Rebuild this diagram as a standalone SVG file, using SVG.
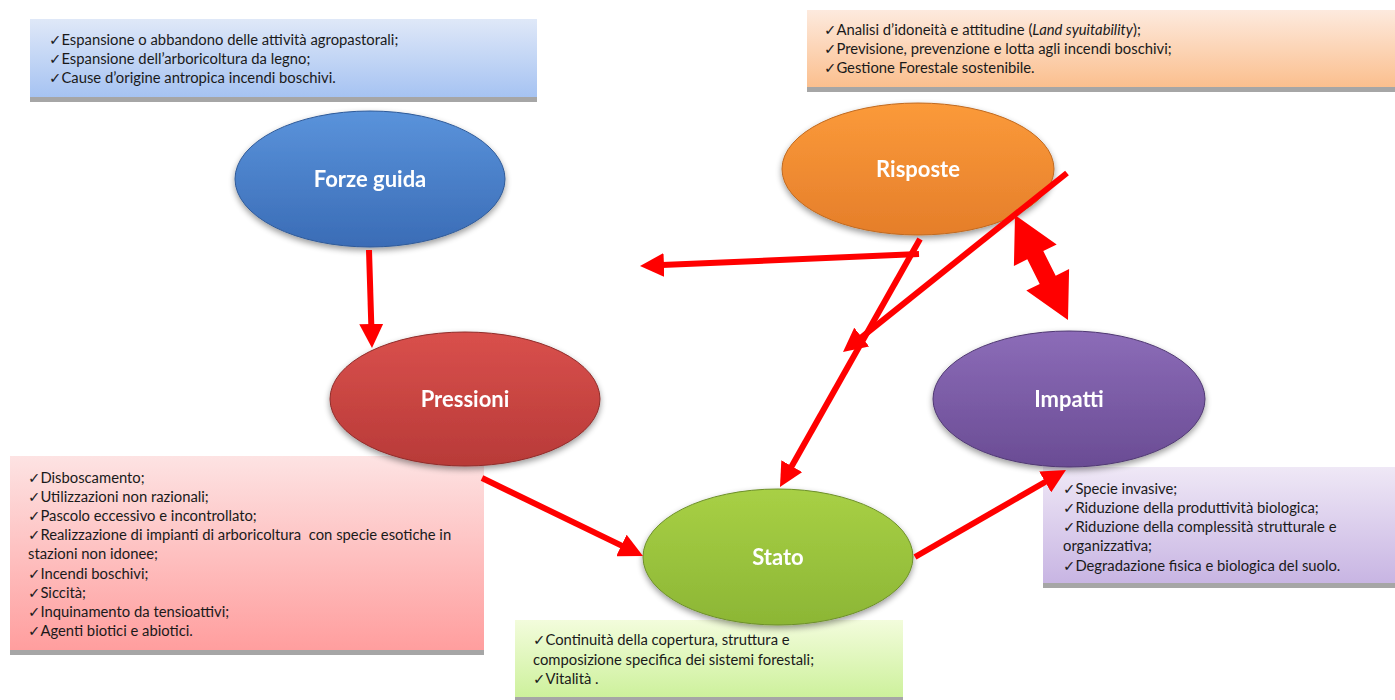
<svg xmlns="http://www.w3.org/2000/svg" width="1395" height="700" viewBox="0 0 1395 700">
<defs>
<style>
.t{font-family:Lato,"Liberation Sans","DejaVu Sans",sans-serif;font-size:14.8px;fill:#1a1a1a}
.lbl{font-family:Lato,"Liberation Sans",sans-serif;font-size:22px;font-weight:bold;fill:#ffffff}
.conn{stroke:#ff0000;stroke-width:6;fill:none}
.shadowbar{fill:#a6a6a6}
</style>
<linearGradient id="gBlueBox" x1="0" y1="0" x2="0" y2="1"><stop offset="0" stop-color="#dfe8f8"/><stop offset="1" stop-color="#a6c3f2"/></linearGradient>
<linearGradient id="gOrBox" x1="0" y1="0" x2="0" y2="1"><stop offset="0" stop-color="#fdeade"/><stop offset="1" stop-color="#fbbf8e"/></linearGradient>
<linearGradient id="gRedBox" x1="0" y1="0" x2="0" y2="1"><stop offset="0" stop-color="#fde3e3"/><stop offset="1" stop-color="#ff9e9e"/></linearGradient>
<linearGradient id="gPurBox" x1="0" y1="0" x2="0" y2="1"><stop offset="0" stop-color="#efe8f6"/><stop offset="1" stop-color="#c8b5e3"/></linearGradient>
<linearGradient id="gGrBox" x1="0" y1="0" x2="0" y2="1"><stop offset="0" stop-color="#f3fcdc"/><stop offset="1" stop-color="#cdf19c"/></linearGradient>
<linearGradient id="gBlue" x1="0" y1="0" x2="0" y2="1"><stop offset="0" stop-color="#5a93db"/><stop offset="1" stop-color="#3a6cb6"/></linearGradient>
<linearGradient id="gOr" x1="0" y1="0" x2="0" y2="1"><stop offset="0" stop-color="#fb9a3a"/><stop offset="1" stop-color="#e57e2a"/></linearGradient>
<linearGradient id="gRed" x1="0" y1="0" x2="0" y2="1"><stop offset="0" stop-color="#d9504c"/><stop offset="1" stop-color="#b83a38"/></linearGradient>
<linearGradient id="gPur" x1="0" y1="0" x2="0" y2="1"><stop offset="0" stop-color="#8c6cb8"/><stop offset="1" stop-color="#6a4c94"/></linearGradient>
<linearGradient id="gGr" x1="0" y1="0" x2="0" y2="1"><stop offset="0" stop-color="#a8d045"/><stop offset="1" stop-color="#8cb635"/></linearGradient>
<filter id="sh" x="-20%" y="-20%" width="140%" height="150%"><feGaussianBlur in="SourceAlpha" stdDeviation="3"/><feOffset dy="3"/><feComponentTransfer><feFuncA type="linear" slope="0.4"/></feComponentTransfer><feMerge><feMergeNode/><feMergeNode in="SourceGraphic"/></feMerge></filter>
<marker id="ah" markerUnits="userSpaceOnUse" viewBox="0 0 24 24" markerWidth="24" markerHeight="24" refX="14" refY="12" orient="auto"><path d="M0,0 L24,12 L0,24 z" fill="#ff0000"/></marker>
</defs>

<g id="box-forze">
<rect class="shadowbar" x="30" y="22" width="507" height="80"/>
<rect x="30" y="19" width="507" height="78" fill="url(#gBlueBox)"/>
<text class="t" x="49" y="45">✓Espansione o abbandono delle attività agropastorali;</text>
<text class="t" x="49" y="64">✓Espansione dell’arboricoltura da legno;</text>
<text class="t" x="49" y="83">✓Cause d’origine antropica incendi boschivi.</text>
</g>

<g id="box-risposte">
<rect class="shadowbar" x="807" y="13" width="588" height="79"/>
<rect x="807" y="10" width="588" height="77" fill="url(#gOrBox)"/>
<text class="t" x="824" y="35">✓Analisi d’idoneità e attitudine (<tspan font-style="italic">Land syuitability</tspan>);</text>
<text class="t" x="824" y="54">✓Previsione, prevenzione e lotta agli incendi boschivi;</text>
<text class="t" x="824" y="73">✓Gestione Forestale sostenibile.</text>
</g>

<g id="box-pressioni">
<rect class="shadowbar" x="10" y="459" width="474" height="196"/>
<rect x="10" y="456" width="474" height="194" fill="url(#gRedBox)"/>
<text class="t" x="28" y="483">✓Disboscamento;</text>
<text class="t" x="28" y="502">✓Utilizzazioni non razionali;</text>
<text class="t" x="28" y="521">✓Pascolo eccessivo e incontrollato;</text>
<text class="t" x="28" y="540" xml:space="preserve">✓Realizzazione di impianti di arboricoltura  con specie esotiche in</text>
<text class="t" x="28" y="559">stazioni non idonee;</text>
<text class="t" x="28" y="579">✓Incendi boschivi;</text>
<text class="t" x="28" y="598">✓Siccità;</text>
<text class="t" x="28" y="617">✓Inquinamento da tensioattivi;</text>
<text class="t" x="28" y="636">✓Agenti biotici e abiotici.</text>
</g>

<g id="box-impatti">
<rect class="shadowbar" x="1043" y="470" width="352" height="118"/>
<rect x="1043" y="467" width="352" height="116" fill="url(#gPurBox)"/>
<text class="t" x="1063" y="494">✓Specie invasive;</text>
<text class="t" x="1063" y="513">✓Riduzione della produttività biologica;</text>
<text class="t" x="1063" y="532">✓Riduzione della complessità strutturale e</text>
<text class="t" x="1063" y="551">organizzativa;</text>
<text class="t" x="1063" y="571">✓Degradazione fisica e biologica del suolo.</text>
</g>

<g id="box-stato">
<rect class="shadowbar" x="515" y="623" width="388" height="77"/>
<rect x="515" y="620" width="388" height="77" fill="url(#gGrBox)"/>
<text class="t" x="533" y="645">✓Continuità della copertura, struttura e</text>
<text class="t" x="533" y="665">composizione specifica dei sistemi forestali;</text>
<text class="t" x="533" y="684">✓Vitalità .</text>
</g>

<g id="node-forze" filter="url(#sh)">
<ellipse cx="370" cy="179" rx="135" ry="68" fill="url(#gBlue)" stroke="#2f5a98" stroke-width="1"/>
<text class="lbl" x="370" y="187" text-anchor="middle">Forze guida</text>
</g>
<g id="node-risposte" filter="url(#sh)">
<ellipse cx="918" cy="169" rx="136" ry="66" fill="url(#gOr)" stroke="#c06a20" stroke-width="1"/>
<text class="lbl" x="918" y="177" text-anchor="middle">Risposte</text>
</g>
<g id="node-pressioni" filter="url(#sh)">
<ellipse cx="465" cy="399" rx="135" ry="67" fill="url(#gRed)" stroke="#8f2d2b" stroke-width="1"/>
<text class="lbl" x="465" y="407" text-anchor="middle">Pressioni</text>
</g>
<g id="node-impatti" filter="url(#sh)">
<ellipse cx="1069" cy="399" rx="136" ry="68" fill="url(#gPur)" stroke="#4f3872" stroke-width="1"/>
<text class="lbl" x="1069" y="407" text-anchor="middle">Impatti</text>
</g>
<g id="node-stato" filter="url(#sh)">
<ellipse cx="778" cy="557" rx="135" ry="68" fill="url(#gGr)" stroke="#6d8f2a" stroke-width="1"/>
<text class="lbl" x="778" y="565" text-anchor="middle">Stato</text>
</g>

<g id="connectors">
<line class="conn" x1="369" y1="250" x2="371.7" y2="338" marker-end="url(#ah)"/>
<line class="conn" x1="482" y1="478" x2="634" y2="551.6" marker-end="url(#ah)"/>
<line class="conn" x1="915" y1="557" x2="1057.3" y2="475" marker-end="url(#ah)"/>
<line class="conn" x1="919" y1="254" x2="650" y2="265.6" marker-end="url(#ah)"/>
<line class="conn" x1="920" y1="239" x2="784.9" y2="478.3" marker-end="url(#ah)"/>
<line class="conn" x1="1067" y1="173" x2="850.8" y2="345.8" marker-end="url(#ah)"/>
<polygon fill="#ff0000" points="1015,215 1056.7,244.4 1043.3,251.1 1055.7,275.7 1069.1,269 1068,320 1026.3,290.6 1039.7,283.9 1027.3,259.3 1013.9,266"/>
</g>
</svg>
